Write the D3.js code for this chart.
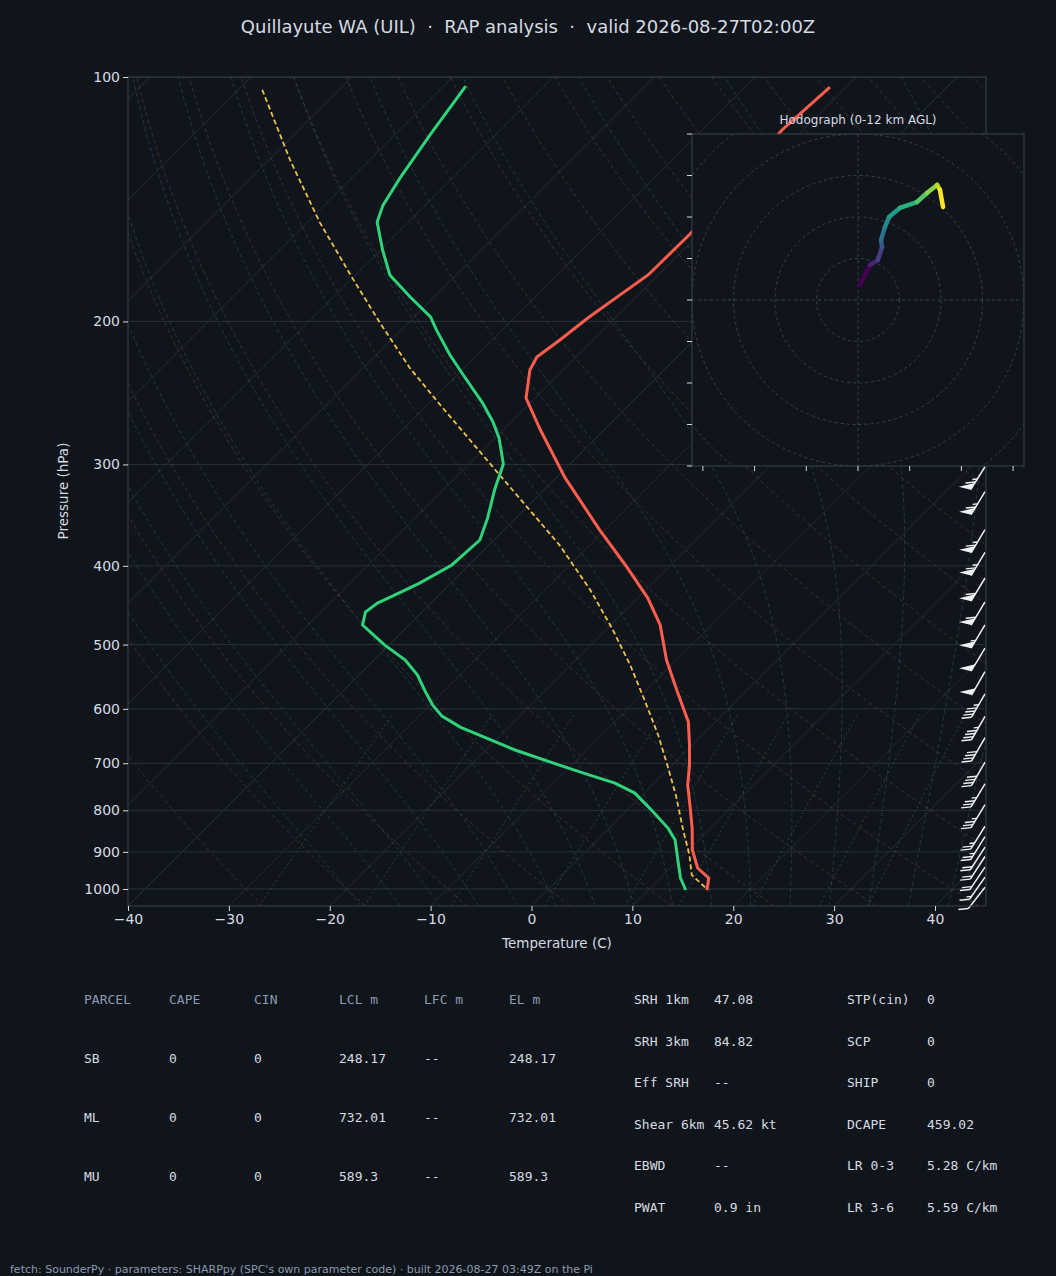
<!DOCTYPE html>
<html><head><meta charset="utf-8">
<script src="https://cdn.jsdelivr.net/npm/d3@7"></script>
<style>body{margin:0;background:#10141b}svg{display:block}</style>
</head><body>
<svg id="c" width="1056" height="1276"></svg>
<script>
// ---------- data ----------
const tempP = [102.9,116.2,156.1,175.3,185.5,198.1,210.8,221.2,229.5,248.5,272.1,311.7,361.4,399,438.2,473,522.4,573.8,622.6,664.7,703.8,744.8,788.2,841.3,895.4,942.2,969.4,1002.8];
const tempT = [-51.6,-52.1,-50.9,-51.0,-51.8,-52.7,-53.3,-53.9,-53.3,-50.9,-46.3,-39.1,-30.5,-24.5,-19.0,-15.1,-11.0,-6.6,-2.7,-0.3,1.7,3.5,5.7,8.2,10.4,12.7,14.8,15.8];
const dewP = [102.6,117.9,133.2,143.8,150.9,163.3,175.3,186.6,197.5,205,220,234.8,252.1,266,278.4,299.7,322.6,349.4,371.7,399,420,434.5,444.5,456,473,500.9,522.4,545.1,572.2,593.7,612.5,631.9,674.2,703.8,724,740.6,761.9,795,841.3,870.4,921.1,969.4,1002.8];
const dewT = [-87.8,-86.5,-85.2,-84.2,-83.1,-79.8,-76.6,-72.4,-68.4,-66.5,-62.7,-58.9,-54.7,-51.8,-49.6,-46.6,-44.9,-42.8,-41.4,-41.7,-43.1,-44.4,-45.3,-45.6,-44.6,-40.4,-36.9,-34.2,-31.7,-29.7,-27.7,-24.8,-17.1,-11.2,-7.2,-3.9,-0.95,2.0,5.8,7.7,9.95,12.0,13.7];
const parcelP = [103.7,126.5,150.9,175.3,200.9,228.2,253.5,279.9,310,341.6,377.1,428.3,477,529.9,585.3,646.1,703.8,765.9,846,908.1,960.8,1002.8];
const parcelT = [-107.6,-97.9,-88.8,-80.5,-72.8,-65.4,-58.7,-52.3,-45.7,-39.4,-33.0,-25.5,-19.6,-14.1,-9.2,-4.4,-0.5,3.3,7.5,10.6,12.8,15.9];
const barbP = [302,324,361,385,414,443,473,505,540,575,613,651,698,742,787,837,862,888,912,940,967,995];
const barbSpd = [65,65,65,65,60,60,55,50,50,45,45,40,40,35,35,25,25,20,20,20,15,10];
const barbDir = [212,211,211,211,211,211,211,211,210,210,210,210,210,211,211,212,212,213,213,214,215,218];
const hodoU = [0.8,4.6,7.7,9.3,8.9,10.4,12.0,16.2,22.8,26.7,30.6,31.7,32.9];
const hodoV = [5.8,13.5,15.5,20.5,23.2,28.2,32.1,35.6,37.9,41.4,44.5,42.6,36.0];
const xTicks = [-40,-30,-20,-10,0,10,20,30,40];
const pTicks = [100,200,300,400,500,600,700,800,900,1000];
const parcelHead = ["PARCEL","CAPE","CIN","LCL m","LFC m","EL m"];
const parcelRows = [["SB","0","0","248.17","--","248.17"],["ML","0","0","732.01","--","732.01"],["MU","0","0","589.3","--","589.3"]];
const idxLabels1 = ["SRH 1km","SRH 3km","Eff SRH","Shear 6km","EBWD","PWAT"];
const idxValues1 = ["47.08","84.82","--","45.62 kt","--","0.9 in"];
const idxLabels2 = ["STP(cin)","SCP","SHIP","DCAPE","LR 0-3","LR 3-6"];
const idxValues2 = ["0","0","0","459.02","5.28 C/km","5.59 C/km"];

// ---------- layout ----------
const svg = d3.select("#c");
const BG="#10141b", AX="#3a4350", TXT="#d6dbe2", SUB="#8b9bb0";
svg.append("rect").attr("width",1056).attr("height",1276).attr("fill",BG);
const L=128,R=986,T=77,B=906;
const x = d3.scaleLinear().domain([-40,40]).range([L,935]);
const y = d3.scaleLog().domain([100,1000]).range([T,889]);
const pBot = y.invert(B);
const X = (t,p)=> x(t) + (B - y(p));

svg.append("text").attr("x",528).attr("y",33).attr("text-anchor","middle")
  .attr("fill",TXT).attr("font-family","DejaVu Sans").attr("font-size",18)
  .text("Quillayute WA (UIL)\u00a0\u00a0·\u00a0\u00a0RAP analysis\u00a0\u00a0·\u00a0\u00a0valid 2026-08-27T02:00Z");

svg.append("clipPath").attr("id","pc").append("rect").attr("x",L).attr("y",T).attr("width",R-L).attr("height",B-T);
const g = svg.append("g").attr("clip-path","url(#pc)");
const line = d3.line().x(d=>X(d[0],d[1])).y(d=>y(d[1]));
const pLev = d3.range(0,61).map(i=>pBot*Math.pow(100/pBot,i/60));

pTicks.forEach(p=>g.append("line").attr("x1",L).attr("x2",R).attr("y1",y(p)).attr("y2",y(p)).attr("stroke","#28303b").attr("stroke-width",1));
d3.range(-120,60,10).forEach(t=>g.append("path").attr("d",line([[t,pBot],[t,100]])).attr("fill","none").attr("stroke","#252d38").attr("stroke-width",1));
d3.range(-30,210,10).forEach(th=>{
  const K=th+273.15;
  g.append("path").attr("d",line(pLev.map(p=>[K*Math.pow(p/1000,0.2857)-273.15,p])))
   .attr("fill","none").attr("stroke","#4e4230").attr("stroke-width",0.9).attr("stroke-dasharray","4,3").attr("opacity",0.75);
});
function es(Tc){return 6.112*Math.exp(17.67*Tc/(Tc+243.5));}
function moist(t0){
  const out=[]; let Tk=t0+273.15, p=1000;
  const step=(pp,TT,dp)=>{const rs=0.622*es(TT-273.15)/(pp-es(TT-273.15));
    const num=(287*TT+2.5e6*rs)/pp; const den=1005+2.5e6*2.5e6*rs*0.622/(287*TT*TT); return TT+num/den*dp;};
  let Tb=Tk,pb=1000; const down=[];
  while(pb<pBot){Tb=step(pb,Tb,5);pb+=5;down.push([Tb-273.15,pb]);}
  out.push(...down.reverse()); out.push([t0,1000]);
  while(p>100){Tk=step(p,Tk,-5);p-=5;out.push([Tk-273.15,p]);}
  return out;
}
d3.range(-20,48,4).forEach(t=>g.append("path").attr("d",line(moist(t))).attr("fill","none")
   .attr("stroke","#2a4550").attr("stroke-width",0.9).attr("stroke-dasharray","4,3").attr("opacity",0.85));
[0.4,1,2,4,7,10,16,24,32].forEach(w=>{
  const pts=d3.range(1050,590,-20).map(p=>{const e=p*w/1000/(0.622+w/1000);const l=Math.log(e/6.112);return [243.5*l/(17.67-l),p];});
  g.append("path").attr("d",line(pts)).attr("fill","none").attr("stroke","#334a36").attr("stroke-width",0.9).attr("stroke-dasharray","2,3");
});
g.append("path").attr("d",line(parcelP.map((p,i)=>[parcelT[i],p]))).attr("fill","none").attr("stroke","#f2c14a").attr("stroke-width",1.8).attr("stroke-dasharray","5,3");
g.append("path").attr("d",line(tempP.map((p,i)=>[tempT[i],p]))).attr("fill","none").attr("stroke","#ff5d4d").attr("stroke-width",3);
g.append("path").attr("d",line(dewP.map((p,i)=>[dewT[i],p]))).attr("fill","none").attr("stroke","#2fd37a").attr("stroke-width",3);

// barbs
const bx=985, BC="#eef0f3";
barbP.forEach((p,i)=>{
  const by=y(p), a=barbDir[i]*Math.PI/180, Ls=27;
  const sx=Math.sin(a), sy=-Math.cos(a);
  const ex=bx+sx*Ls, ey=by+sy*Ls;
  const fx=-10, fy=1;
  const bg=svg.append("g");
  bg.append("line").attr("x1",bx).attr("y1",by).attr("x2",ex).attr("y2",ey).attr("stroke",BC).attr("stroke-width",1.5);
  let s=Math.round(barbSpd[i]/5)*5, pos=0; const gap=3.6;
  const at=k=>[ex-sx*k, ey-sy*k];
  while(s>=50){const [ax,ay]=at(pos),[cx,cy]=at(pos+8);
    bg.append("path").attr("d",`M${ax},${ay}L${ax-12},${ay-3}L${cx},${cy}Z`).attr("fill",BC);
    pos+=9; s-=50;}
  while(s>=10){const [ax,ay]=at(pos);
    bg.append("line").attr("x1",ax).attr("y1",ay).attr("x2",ax+fx).attr("y2",ay+fy).attr("stroke",BC).attr("stroke-width",1.4);
    pos+=gap; s-=10;}
  if(s>=5){if(pos===0)pos=gap;const [ax,ay]=at(pos);
    bg.append("line").attr("x1",ax).attr("y1",ay).attr("x2",ax+fx/2).attr("y2",ay+fy/2).attr("stroke",BC).attr("stroke-width",1.4);}
});

svg.append("rect").attr("x",L).attr("y",T).attr("width",R-L).attr("height",B-T).attr("fill","none").attr("stroke",AX);
const ya=svg.append("g").attr("transform",`translate(${L},0)`).call(d3.axisLeft(y).tickValues(pTicks).tickFormat(d3.format("d")).tickSize(5));
const xa=svg.append("g").attr("transform",`translate(0,${B})`).call(d3.axisBottom(x).tickValues(xTicks).tickFormat(d=>d<0?"\u2212"+(-d):d).tickSize(5));
[ya,xa].forEach(a=>{a.select(".domain").remove();a.selectAll("line").attr("stroke",TXT);
  a.selectAll("text").attr("fill",TXT).attr("font-family","DejaVu Sans").attr("font-size",14);});
svg.append("text").attr("transform","translate(68,491) rotate(-90)").attr("text-anchor","middle").attr("fill",TXT)
  .attr("font-family","DejaVu Sans").attr("font-size",13.5).text("Pressure (hPa)");
svg.append("text").attr("x",557).attr("y",948).attr("text-anchor","middle").attr("fill",TXT)
  .attr("font-family","DejaVu Sans").attr("font-size",13.5).text("Temperature (C)");

// hodograph
const hx0=692,hy0=134,hw=332,hh=332, hc=[858,300], ks=2.585;
const hu=d3.scaleLinear().domain([0,1]).range([hc[0],hc[0]+ks]);
const hv=d3.scaleLinear().domain([0,1]).range([hc[1],hc[1]-ks]);
svg.append("text").attr("x",858).attr("y",124).attr("text-anchor","middle").attr("fill",TXT).attr("font-family","DejaVu Sans").attr("font-size",12).text("Hodograph (0-12 km AGL)");
svg.append("clipPath").attr("id","hc").append("rect").attr("x",hx0).attr("y",hy0).attr("width",hw).attr("height",hh);
svg.append("rect").attr("x",hx0).attr("y",hy0).attr("width",hw).attr("height",hh).attr("fill",BG);
const hg=svg.append("g").attr("clip-path","url(#hc)");
[1,2,3,4,5].forEach(k=>hg.append("circle").attr("cx",hc[0]).attr("cy",hc[1]).attr("r",41.5*k).attr("fill","none").attr("stroke","#39424f").attr("stroke-dasharray","3,3"));
hg.append("line").attr("x1",hx0).attr("x2",hx0+hw).attr("y1",hc[1]).attr("y2",hc[1]).attr("stroke","#39424f").attr("stroke-dasharray","3,3");
hg.append("line").attr("y1",hy0).attr("y2",hy0+hh).attr("x1",hc[0]).attr("x2",hc[0]).attr("stroke","#39424f").attr("stroke-dasharray","3,3");
const n=hodoU.length;
for(let i=0;i<n-1;i++){
  hg.append("line").attr("x1",hu(hodoU[i])).attr("y1",hv(hodoV[i])).attr("x2",hu(hodoU[i+1])).attr("y2",hv(hodoV[i+1]))
   .attr("stroke",d3.interpolateViridis(i/(n-2))).attr("stroke-width",4.5).attr("stroke-linecap","round");
}
svg.append("rect").attr("x",hx0).attr("y",hy0).attr("width",hw).attr("height",hh).attr("fill","none").attr("stroke",AX);
for(let k=-3;k<=3;k++){const xx=hc[0]+k*51.7;svg.append("line").attr("x1",xx).attr("x2",xx).attr("y1",hy0+hh).attr("y2",hy0+hh+5).attr("stroke",TXT);}
for(let k=0;k<=8;k++){const yy=hy0+k*41.5;svg.append("line").attr("x1",hx0-5).attr("x2",hx0).attr("y1",yy).attr("y2",yy).attr("stroke",TXT);}

// tables
const mono="DejaVu Sans Mono";
const cols=[84,169,254,339,424,509];
parcelHead.forEach((h,j)=>svg.append("text").attr("x",cols[j]).attr("y",1004).attr("fill",SUB).attr("font-family",mono).attr("font-size",13).text(h));
parcelRows.forEach((r,i)=>r.forEach((v,j)=>svg.append("text").attr("x",cols[j]).attr("y",1063+i*59).attr("fill",TXT).attr("font-family",mono).attr("font-size",13).text(v)));
idxLabels1.forEach((l,i)=>{
  const yy=1004+i*41.6;
  svg.append("text").attr("x",634).attr("y",yy).attr("fill",TXT).attr("font-family",mono).attr("font-size",13).text(l);
  svg.append("text").attr("x",714).attr("y",yy).attr("fill",TXT).attr("font-family",mono).attr("font-size",13).text(idxValues1[i]);
  svg.append("text").attr("x",847).attr("y",yy).attr("fill",TXT).attr("font-family",mono).attr("font-size",13).text(idxLabels2[i]);
  svg.append("text").attr("x",927).attr("y",yy).attr("fill",TXT).attr("font-family",mono).attr("font-size",13).text(idxValues2[i]);
});
svg.append("text").attr("x",10).attr("y",1273).attr("fill",SUB).attr("font-family","DejaVu Sans").attr("font-size",11)
  .text("fetch: SounderPy · parameters: SHARPpy (SPC's own parameter code) · built 2026-08-27 03:49Z on the Pi");
</script>
</body></html>
